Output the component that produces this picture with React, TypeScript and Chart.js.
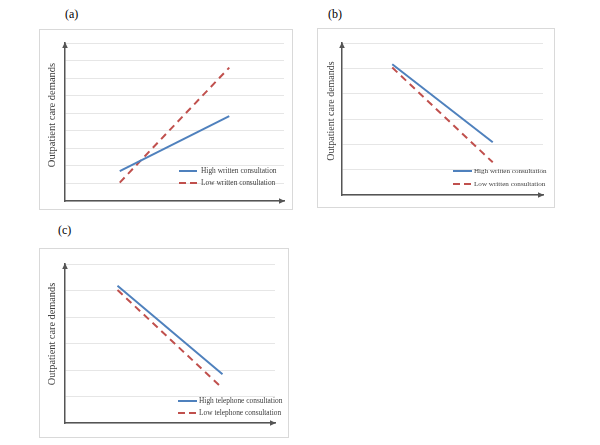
import React, { useEffect, useRef } from "react";
import { Chart, registerables } from "chart.js";

Chart.register(...registerables);

// ---------- data ----------
const xLevels = [1, 3]; // low / high level of the predictor
const xMin = 0;
const xMax = 4;
const yAxisTitle = "Outpatient care demands";
const panelLabels = ["(a)", "(b)", "(c)"];

const namesA = ["High written consultation", "Low written consultation"];
const highA = [1.7, 4.84];
const lowA = [1.05, 7.6];
const yMaxA = 9;

const namesB = ["High written consultation", "Low written consultation"];
const highB = [5.16, 2.08];
const lowB = [5.03, 1.29];
const yMaxB = 6;

const namesC = ["High telephone consultation", "Low telephone consultation"];
const highC = [5.18, 1.84];
const lowC = [5.02, 1.31];
const yMaxC = 6;

// ---------- styles ----------
const BLUE = "#4F81BD";
const RED = "#C0504D";
const AXIS = "#555555";
const GRID = "#e6e6e6";
const FRAME = "#d9d9d9";
const SERIF = '"Liberation Serif", "Times New Roman", serif';

type Layout = {
  box: { l: number; t: number; r: number; b: number };
  area: { l: number; t: number; r: number; b: number };
  title: { x: number; y: number; size: number };
  legend: { x0: number; x1: number; tx: number; y1: number; y2: number; size: number };
  label: { x: number; y: number };
};

const layouts: Layout[] = [
  {
    box: { l: 39, t: 29, r: 293, b: 210 },
    area: { l: 65, t: 43, r: 284, b: 201 },
    title: { x: 52, y: 115, size: 10.5 },
    legend: { x0: 179, x1: 197, tx: 201, y1: 171, y2: 183, size: 7.4 },
    label: { x: 65, y: 8 },
  },
  {
    box: { l: 317, t: 28, r: 555, b: 208 },
    area: { l: 342, t: 43, r: 543, b: 195 },
    title: { x: 331, y: 111, size: 10 },
    legend: { x0: 453, x1: 472, tx: 474, y1: 171, y2: 184, size: 7.1 },
    label: { x: 328, y: 8 },
  },
  {
    box: { l: 39, t: 248, r: 289, b: 438 },
    area: { l: 65, t: 264, r: 275, b: 423 },
    title: { x: 52, y: 334, size: 10.3 },
    legend: { x0: 178, x1: 197, tx: 199, y1: 401, y2: 413, size: 7.4 },
    label: { x: 58, y: 224 },
  },
];

const panels = [
  { names: namesA, high: highA, low: lowA, yMax: yMaxA },
  { names: namesB, high: highB, low: lowB, yMax: yMaxB },
  { names: namesC, high: highC, low: lowC, yMax: yMaxC },
];

const decorPlugin = {
  id: "decor",
  afterDraw(chart: any, _args: any, opts: any) {
    const ctx: CanvasRenderingContext2D = chart.ctx;
    const { left, top, right, bottom } = chart.chartArea;
    ctx.save();
    // arrow heads
    ctx.fillStyle = AXIS;
    ctx.beginPath();
    ctx.moveTo(left, top - 1);
    ctx.lineTo(left - 2.8, top + 5);
    ctx.lineTo(left + 2.8, top + 5);
    ctx.closePath();
    ctx.fill();
    ctx.beginPath();
    ctx.moveTo(right + 1, bottom);
    ctx.lineTo(right - 5, bottom - 2.8);
    ctx.lineTo(right - 5, bottom + 2.8);
    ctx.closePath();
    ctx.fill();

    // y axis title
    ctx.save();
    ctx.translate(opts.titleX, opts.titleY);
    ctx.rotate(-Math.PI / 2);
    ctx.fillStyle = "#404040";
    ctx.font = `${opts.titleSize}px ${SERIF}`;
    ctx.textAlign = "center";
    ctx.textBaseline = "middle";
    ctx.fillText(opts.title, 0, 0);
    ctx.restore();

    // legend
    const ys = [opts.ly1, opts.ly2];
    chart.data.datasets.forEach((ds: any, i: number) => {
      ctx.save();
      ctx.strokeStyle = ds.borderColor;
      ctx.lineWidth = 2;
      ctx.setLineDash(ds.borderDash && ds.borderDash.length ? [7, 4] : []);
      ctx.beginPath();
      ctx.moveTo(opts.lx0, ys[i]);
      ctx.lineTo(opts.lx1, ys[i]);
      ctx.stroke();
      ctx.restore();
      ctx.fillStyle = "#404040";
      ctx.font = `${opts.legendSize}px ${SERIF}`;
      ctx.textAlign = "left";
      ctx.textBaseline = "middle";
      ctx.fillText(ds.label, opts.tx, ys[i]);
    });
    ctx.restore();
  },
};

function Panel({ idx }: { idx: number }) {
  const ref = useRef<HTMLCanvasElement>(null);
  const L = layouts[idx];
  const P = panels[idx];
  const cw = L.box.r - L.box.l - 2;
  const ch = L.box.b - L.box.t - 2;
  const ox = L.box.l + 1;
  const oy = L.box.t + 1;

  useEffect(() => {
    if (!ref.current) return;
    const chart = new Chart(ref.current, {
      type: "line",
      data: {
        datasets: [
          {
            label: P.names[0],
            data: xLevels.map((x, i) => ({ x, y: P.high[i] })),
            borderColor: BLUE,
            backgroundColor: BLUE,
            borderWidth: 2,
            pointRadius: 0,
            borderDash: [],
          },
          {
            label: P.names[1],
            data: xLevels.map((x, i) => ({ x, y: P.low[i] })),
            borderColor: RED,
            backgroundColor: RED,
            borderWidth: 2,
            pointRadius: 0,
            borderDash: [7, 5],
          },
        ],
      },
      options: {
        animation: false,
        responsive: false,
        maintainAspectRatio: false,
        layout: {
          padding: {
            left: L.area.l - ox,
            top: L.area.t - oy,
            right: ox + cw - L.area.r,
            bottom: oy + ch - L.area.b,
          },
        },
        plugins: {
          legend: { display: false },
          tooltip: { enabled: false },
          decor: {
            title: yAxisTitle,
            titleX: L.title.x - ox,
            titleY: L.title.y - oy,
            titleSize: L.title.size,
            lx0: L.legend.x0 - ox,
            lx1: L.legend.x1 - ox,
            tx: L.legend.tx - ox,
            ly1: L.legend.y1 - oy,
            ly2: L.legend.y2 - oy,
            legendSize: L.legend.size,
          },
        } as any,
        scales: {
          x: {
            type: "linear",
            min: xMin,
            max: xMax,
            grid: { display: false, drawTicks: false },
            border: { display: true, color: AXIS, width: 1.5 },
            ticks: { display: false },
            afterFit: (s: any) => {
              s.height = 0;
            },
          },
          y: {
            type: "linear",
            min: 0,
            max: P.yMax,
            grid: { display: true, color: GRID, lineWidth: 1, drawTicks: false },
            border: { display: true, color: AXIS, width: 1.5 },
            ticks: { display: false, stepSize: 1 },
            afterFit: (s: any) => {
              s.width = 0;
            },
          },
        },
      },
      plugins: [decorPlugin],
    } as any);
    return () => chart.destroy();
  }, []);

  return (
    <>
      <div
        style={{
          position: "absolute",
          left: L.box.l,
          top: L.box.t,
          width: L.box.r - L.box.l,
          height: L.box.b - L.box.t,
          border: `1px solid ${FRAME}`,
          boxSizing: "border-box",
          background: "#fff",
        }}
      >
        <canvas ref={ref} width={cw} height={ch} style={{ display: "block", width: cw, height: ch }} />
      </div>
      <div
        style={{
          position: "absolute",
          left: L.label.x,
          top: L.label.y,
          fontFamily: SERIF,
          fontSize: 12,
          lineHeight: "12px",
          color: "#000",
          whiteSpace: "nowrap",
        }}
      >
        {panelLabels[idx]}
      </div>
    </>
  );
}

export default function App() {
  return (
    <div style={{ position: "absolute", left: 0, top: 0, width: 600, height: 445, background: "#fff" }}>
      {panels.map((_, i) => (
        <Panel key={i} idx={i} />
      ))}
    </div>
  );
}
